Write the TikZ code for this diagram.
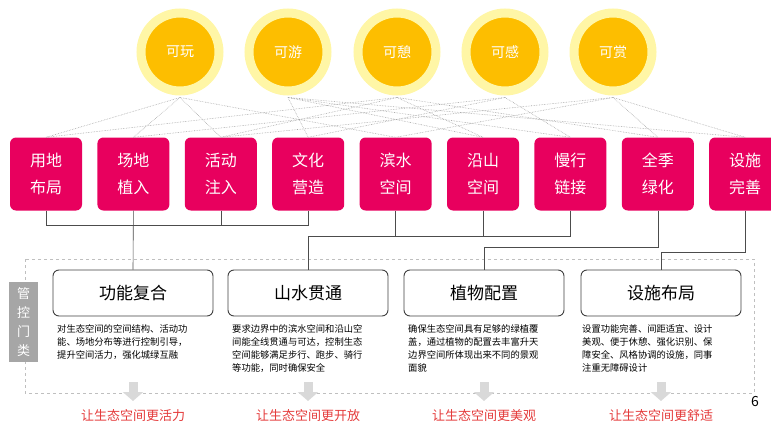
\documentclass[tikz,border=0pt]{standalone}
\usepackage{fontspec}
\setmainfont{Noto Sans CJK SC}
\usetikzlibrary{arrows, arrows.meta}
\usetikzlibrary{calc}
\definecolor{sun}{HTML}{FDBE00}
\definecolor{glow}{HTML}{FFF6A6}
\definecolor{rose}{HTML}{E8005E}
\definecolor{note}{HTML}{E43A3A}
\tikzset{
  sun/.style={circle, fill=sun, draw=glow, line width=9pt, minimum size=78pt, inner sep=0pt, text=white, font=\fontsize{14}{16}\selectfont},
  item/.style={rounded corners=6pt, fill=rose, minimum width=72pt, minimum height=73pt, text=white, align=center, font=\fontsize{16}{27}\selectfont},
  group/.style={rounded corners=6pt, draw=black!75, line width=0.9pt, fill=white, minimum width=160pt, minimum height=46pt, font=\fontsize{17}{20}\selectfont},
  desc/.style={anchor=north west, align=left, inner sep=0pt, font=\fontsize{9.3}{13}\selectfont},
  link/.style={densely dotted, gray!70, line width=0.6pt},
  bus/.style={black!70, line width=0.6pt}
}
\begin{document}
\begin{tikzpicture}[x=1pt, y=-1pt]
        \useasboundingbox (0,0) rectangle (771,428);

        % the five sun nodes
        \foreach \name/\x [count=\i] in {可玩/180, 可游/288, 可憩/397, 可感/505, 可赏/613}
          \node[sun] (s\i) at (\x,52) {\name};

        % the nine pink items
        \foreach \name [count=\i] in {用地\\布局, 场地\\植入, 活动\\注入, 文化\\营造, 滨水\\空间, 沿山\\空间, 慢行\\链接, 全季\\绿化, 设施\\完善}
          \node[item] (b\i) at ({46+87.4*(\i-1)},174) {\name};

        \foreach \s/\b in {1/1, 1/2, 1/3, 1/5, 2/4, 2/6, 2/7, 2/9, 3/1, 3/3, 3/6, 3/8, 4/2, 4/4, 4/7, 5/3, 5/5, 5/8, 5/9}
          \draw[link] ($(s\s.south)+(0,2)$) -- (b\b.north);

        % frame and side label
        \draw[dashed, gray!50, line width=1pt] (25,259) rectangle (754,393);
        \node[fill=gray!70, minimum width=29pt, minimum height=80pt, text=white, align=center, inner sep=0pt, font=\fontsize{13}{19}\selectfont] (g) at (23.5,322) {管\\控\\门\\类};

        \node[group] (g1) at (133,293) {功能复合};
        \node[group] (g2) at (308,293) {山水贯通};
        \node[group] (g3) at (484,293) {植物配置};
        \node[group] (g4) at (661,293) {设施布局};

        \coordinate (j1) at (b2.south |- 0,225);
        \coordinate (j2) at (g2.north |- 0,236);
        \coordinate (j3) at (b8.south |- 0,247);
        \coordinate (j4) at (b9.south |- 0,252);
        \draw[bus] (b1.south) -- (b1.south |- j1) -- (b4.south |- j1) -- (b4.south);
        \draw[bus] (b2.south) -- (g1.north);
        \draw[bus] (b3.south) -- (b3.south |- j1);
        \draw[bus] (b5.south) -- (b5.south |- j2);
        \draw[bus] (b6.south) -- (b6.south |- j2);
        \draw[bus] (b7.south) -- (b7.south |- j2) -- (j2) -- (g2.north);
        \draw[bus] (b8.south) -- (j3) -- (g3.north |- j3) -- (g3.north);
        \draw[bus] (b9.south) -- (j4) -- (g4.north |- j4) -- (g4.north);

        \node[desc] (d1) at (57,324) {对生态空间的空间结构、活动功\\能、场地分布等进行控制引导，\\提升空间活力，强化城绿互融};
        \node[desc] (d2) at (232,324) {要求边界中的滨水空间和沿山空\\间能全线贯通与可达，控制生态\\空间能够满足步行、跑步、骑行\\等功能，同时确保安全};
        \node[desc] (d3) at (408,324) {确保生态空间具有足够的绿植覆\\盖，通过植物的配置去丰富升天\\边界空间所体现出来不同的景观\\面貌};
        \node[desc] (d4) at (582,324) {设置功能完善、间距适宜、设计\\美观、便于休憩、强化识别、保\\障安全、风格协调的设施，同事\\注重无障碍设计};

        % arrows and results
        \foreach \g/\txt in {1/让生态空间更活力, 2/让生态空间更开放, 3/让生态空间更美观, 4/让生态空间更舒适} {
          \draw[-{Triangle[width=20pt, length=9pt]}, gray!30, line width=9pt] (g\g.south |- 0,382) -- (g\g.south |- 0,401);
          \node[text=note, font=\fontsize{13}{15}\selectfont] (r\g) at (g\g.south |- 0,416) {\txt};
        }
        \node[font=\fontsize{14}{16}\selectfont] (pg) at (755,402) {6};
\end{tikzpicture}
\end{document}
